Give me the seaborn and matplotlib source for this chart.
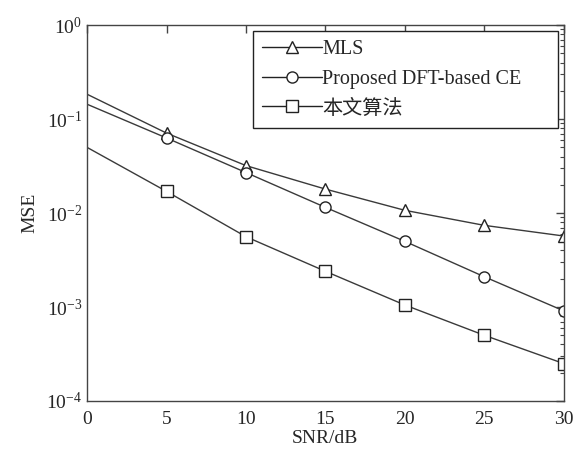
import numpy as np
import pandas as pd
import seaborn as sns
import matplotlib.pyplot as plt
from matplotlib.ticker import LogLocator, NullFormatter, FixedLocator

# values
snr = [0, 5, 10, 15, 20, 25, 30]
mse_mls = [0.184, 0.071, 0.032, 0.018, 0.0107, 0.0074, 0.0057]
mse_dft = [0.144, 0.063, 0.027, 0.0115, 0.0050, 0.0021, 0.00091]
mse_ours = [0.050, 0.017, 0.0056, 0.0024, 0.00105, 0.00050, 0.00025]
names = ['MLS', 'Proposed DFT-based CE', '本文算法']
markers = ['^', 'o', 's']

sns.set_style('white')
plt.rcParams['font.family'] = ['Liberation Serif', 'Noto Sans CJK SC', 'DejaVu Sans']
plt.rcParams['mathtext.fontset'] = 'stix'

df = pd.DataFrame({'SNR': snr * 3,
                   'MSE': mse_mls + mse_dft + mse_ours,
                   'method': [n for n in names for _ in snr]})

fig = plt.figure(figsize=(5.77, 4.5), dpi=100)
ax = fig.add_axes([0.151, 0.109, 0.826, 0.835])

sns.lineplot(data=df, x='SNR', y='MSE', hue='method', style='method',
             palette=['#3a3a3a'] * 3, markers=markers, dashes=False,
             markevery=list(range(1, 7)), markersize=8, markerfacecolor='white',
             markeredgecolor='#222222', markeredgewidth=1.0, linewidth=1.0,
             ax=ax, legend=False)

ax.set_yscale('log')
ax.set_xlim(0, 30)
ax.set_ylim(1e-4, 1e0)
ax.xaxis.set_major_locator(FixedLocator(snr))
ax.yaxis.set_major_locator(LogLocator(base=10, numticks=10))
ax.yaxis.set_minor_locator(LogLocator(base=10, subs=np.arange(2, 10), numticks=10))
ax.yaxis.set_minor_formatter(NullFormatter())
ax.tick_params(which='both', direction='in', top=True, right=True, labelsize=14)
ax.tick_params(which='major', length=6, width=1, color='#444444')
ax.tick_params(which='minor', length=3, width=0.8, color='#444444')
ax.tick_params(axis='x', pad=7)
for s in ax.spines.values():
    s.set_color('#444444')
    s.set_linewidth(1.0)

ax.set_xlabel('SNR/dB', fontsize=14, labelpad=2)
ax.set_ylabel('MSE', fontsize=14, labelpad=6)

handles = [plt.Line2D([], [], color='#222222', lw=1.0, marker=m, markersize=8,
                      markerfacecolor='white', markeredgecolor='#222222')
           for m in markers]
leg = ax.legend(handles, names, loc='upper left', bbox_to_anchor=(0.348, 0, 0.639, 0.984),
                mode='expand', borderaxespad=0, fontsize=14.5, handlelength=3.0,
                handletextpad=0.0, borderpad=0.45, labelspacing=0.52, frameon=True,
                fancybox=False, framealpha=1)
leg.get_frame().set_edgecolor('#222222')
leg.get_frame().set_linewidth(1.0)

plt.savefig('out.png', dpi=100)
